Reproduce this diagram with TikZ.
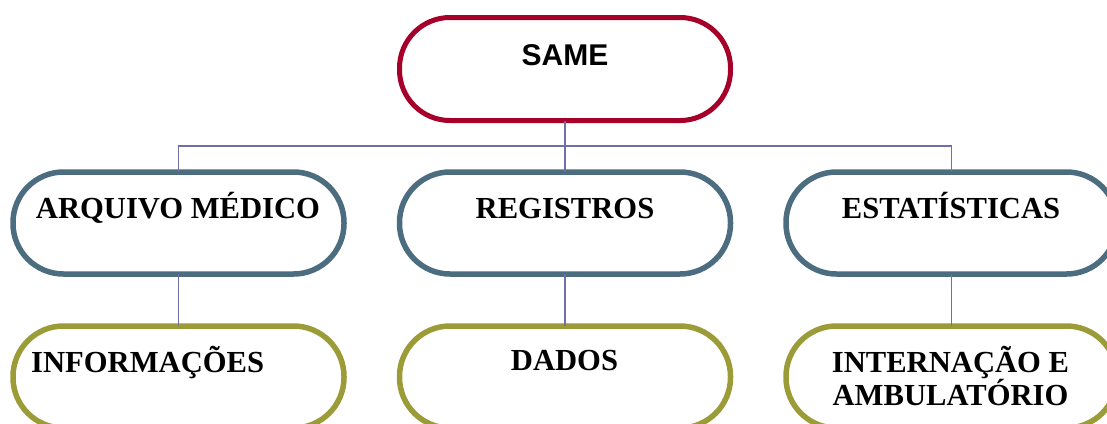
\documentclass[tikz,border=0pt]{standalone}
\usepackage{fontspec}
\setmainfont{Liberation Serif}
\newfontfamily\headfont{Liberation Sans}
\definecolor{rootred}{HTML}{A6002A}
\definecolor{slateblue}{HTML}{4C6C80}
\definecolor{olivegreen}{HTML}{9B9B37}
\definecolor{linkline}{HTML}{7070A8}
\tikzset{
  pill/.style={draw, rectangle, rounded corners=50.5pt, fill=white,
    minimum width=331pt, minimum height=102pt, inner sep=0pt, outer sep=0pt},
  rootbox/.style={pill, draw=rootred, line width=5pt, minimum height=103pt},
  midbox/.style={pill, draw=slateblue, line width=5.5pt},
  leafbox/.style={pill, draw=olivegreen, line width=5.5pt},
  link/.style={draw=linkline, line width=1.4pt},
  roottext/.style={font=\headfont\bfseries\fontsize{30}{33}\selectfont, inner sep=0pt, anchor=base},
  boxtext/.style={font=\bfseries\fontsize{30.6}{33}\selectfont, inner sep=0pt, anchor=base},
}
\begin{document}
\begin{tikzpicture}[x=1pt, y=-1pt]
  \useasboundingbox (0,0) rectangle (1107,423);
  \clip (0,0) rectangle (1107,423);

  % boxes
  \node[rootbox] (same) at (565,69) {};
  \node[midbox] (arq) at (178.5,223) {};
  \node[midbox] (reg) at (565,223) {};
  \node[midbox] (est) at (951.5,223) {};
  \node[leafbox] (inf) at (178.5,377) {};
  \node[leafbox] (dad) at (565,377) {};
  \node[leafbox] (int) at (951.5,377) {};

  % connectors
  \coordinate (bus) at (565,146);
  \draw[link] (same.south) -- (same.south |- bus);
  \draw[link] (arq.north) -- (arq.north |- bus) -| (est.north);
  \draw[link] (reg.north) -- (reg.north |- bus);
  \draw[link] (arq.south) -- (inf.north);
  \draw[link] (reg.south) -- (dad.north);
  \draw[link] (est.south) -- (int.north);

  % labels
  \node[roottext] (sameL) at (565,65) {SAME};
  \node[boxtext] (arqL) at (178,218) {ARQUIVO MÉDICO};
  \node[boxtext] (regL) at (565,218) {REGISTROS};
  \node[boxtext] (estL) at (951,218) {ESTATÍSTICAS};
  \node[boxtext, anchor=base west] (infL) at (31,372) {INFORMAÇÕES};
  \node[boxtext] (dadL) at (564.5,370) {DADOS};
  % the base anchor of a two-line node sits on its last line
  \node[boxtext, align=center] (intL) at (950.5,405) {INTERNAÇÃO E\\AMBULATÓRIO};
\end{tikzpicture}
\end{document}
